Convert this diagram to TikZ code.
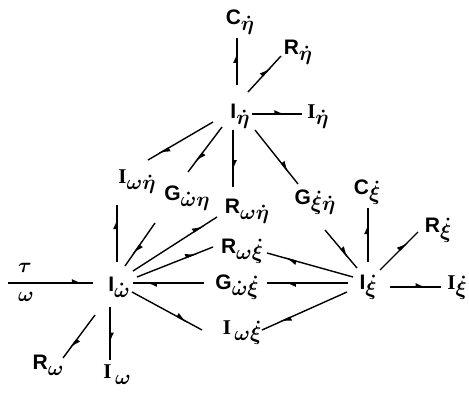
\documentclass[tikz,border=0pt]{standalone}
\usepackage{fontspec}
\setmainfont{Liberation Sans}
\newfontfamily\serf{Liberation Serif}
\usetikzlibrary{arrows.meta,decorations.markings,calc}
\newcommand\lb[2]{#1\raisebox{-0.28em}{\fontsize{20.74}{20.74}\selectfont\boldmath$#2$}}
\newcommand\sI{{\serf\bfseries I}}
\begin{document}
\begin{tikzpicture}[x=1pt,y=-1pt,
  lab/.style={inner sep=0pt, font=\fontsize{21}{24}\selectfont\bfseries},
  con/.style={line width=1.4pt},
  arr/.style={con, postaction={decorate}, decoration={markings, mark=at position #1 with {\arrow{Latex[length=10pt,width=8pt,left]}}}},
  arr/.default=0.8]
\useasboundingbox (0,0) rectangle (469,393);
\node[lab] (Ceta) at (240,22) {\lb{C}{\dot\eta}};
\node[lab] (Reta) at (298,52) {\lb{R}{\dot\eta}};
\node[lab] (Ieta) at (240,116) {\lb{I}{\dot\eta}};
\node[lab] (Ietar) at (318,117) {\lb{\sI}{\dot\eta}};
\node[lab] (Iwn) at (137,182) {\lb{\sI}{\omega\dot\eta}};
\node[lab] (Gwn) at (187,198) {\lb{G}{\dot\omega\eta}};
\node[lab] (Rwn) at (247,211) {\lb{R}{\omega\dot\eta}};
\node[lab] (Gxn) at (315,202) {\lb{G}{\dot\xi\dot\eta}};
\node[lab] (Cxi) at (367,192) {\lb{C}{\dot\xi}};
\node[lab] (Rxi) at (438,230) {\lb{R}{\dot\xi}};
\node[lab] (Ixi) at (368,287) {\lb{I}{\dot\xi}};
\node[lab] (Ixir) at (457,288) {\lb{\sI}{\dot\xi}};
\node[lab] (Rwx) at (242,251) {\lb{R}{\omega\dot\xi}};
\node[lab] (Gwx) at (237,287) {\lb{G}{\dot\omega\dot\xi}};
\node[lab] (Iwx) at (242,333) {\lb{\sI\,}{\omega\dot\xi}};
\node[lab] (Iw) at (119,287) {\lb{I}{\dot\omega}};
\node[lab,font=\fontsize{20.74}{22}\selectfont\boldmath] (tau) at (25,268) {$\tau$};
\node[lab,font=\fontsize{20.74}{22}\selectfont\boldmath] (om) at (26,297) {$\omega$};
\node[lab] (Rw) at (48,365) {\lb{R}{\omega}};
\node[lab] (Iwb) at (117,375) {\lb{\sI\,}{\omega}};
\coordinate (in) at (8,283);

\draw[arr=0.74] ($(Ieta)+(-3,-31)$) -- ($(Ceta)+(-3,16)$);
\draw[arr=0.7] ($(Ieta)+(8,-24)$) -- ($(Reta)+(-17,4)$);
\draw[arr=0.7] ($(Ieta)+(12,-2)$) -- ($(Ietar)+(-16,-3)$);
\draw[arr=0.85] ($(Ieta)+(-27,6)$) -- ($(Iwn)+(11,-22)$);
\draw[arr=0.8] ($(Ieta)+(-18,11)$) -- ($(Gwn)+(1,-26)$);
\draw[arr=0.75] ($(Ieta)+(-7,14)$) -- ($(Rwn)+(-14,-24)$);
\draw[arr=0.8] ($(Ieta)+(15,14)$) -- ($(Gxn)+(-17,-18)$);
\draw[arr=0.75] ($(Gxn)+(10,28)$) -- ($(Ixi)+(-11,-19)$);
\draw[arr=0.75] ($(Ixi)+(0,-25)$) -- ($(Cxi)+(1,16)$);
\draw[arr=0.75] ($(Ixi)+(12,-17)$) -- ($(Rxi)+(-20,2)$);
\draw[arr=0.75] ($(Ixi)+(22,0)$) -- ($(Ixir)+(-16,-1)$);
\draw[arr=0.8] ($(Ixi)+(-15,-10)$) -- ($(Rwx)+(25,2)$);
\draw[arr=0.8] ($(Ixi)+(-20,-4)$) -- ($(Gwx)+(30,-4)$);
\draw[arr=0.8] ($(Ixi)+(-21,5)$) -- ($(Iwx)+(20,-3)$);
\draw[arr=0.8] ($(Iw)+(18,-10)$) -- ($(Rwx)+(-29,-4)$);
\draw[arr=0.85] ($(Iw)+(14,-16)$) -- ($(Rwn)+(-30,6)$);
\draw[arr=0.75] ($(Gwn)+(-32,25)$) -- ($(Iw)+(6,-21)$);
\draw[arr=0.84] ($(Gwx)+(-33,-4)$) -- ($(Iw)+(14,-4)$);
\draw[arr=0.8] ($(Iw)+(-2,-25)$) -- ($(Iwn)+(-20,23)$);
\draw[arr=0.8] ($(Iw)+(13,5)$) -- ($(Iwx)+(-40,-3)$);
\draw[arr=0.9] (in) -- ($(Iw)+(-26,-4)$);
\draw[arr=0.8] ($(Iw)+(-24,28)$) -- ($(Rw)+(15,-7)$);
\draw[arr=0.72] ($(Iw)+(-9,20)$) -- ($(Iwb)+(-7,-15)$);
\end{tikzpicture}
\end{document}
